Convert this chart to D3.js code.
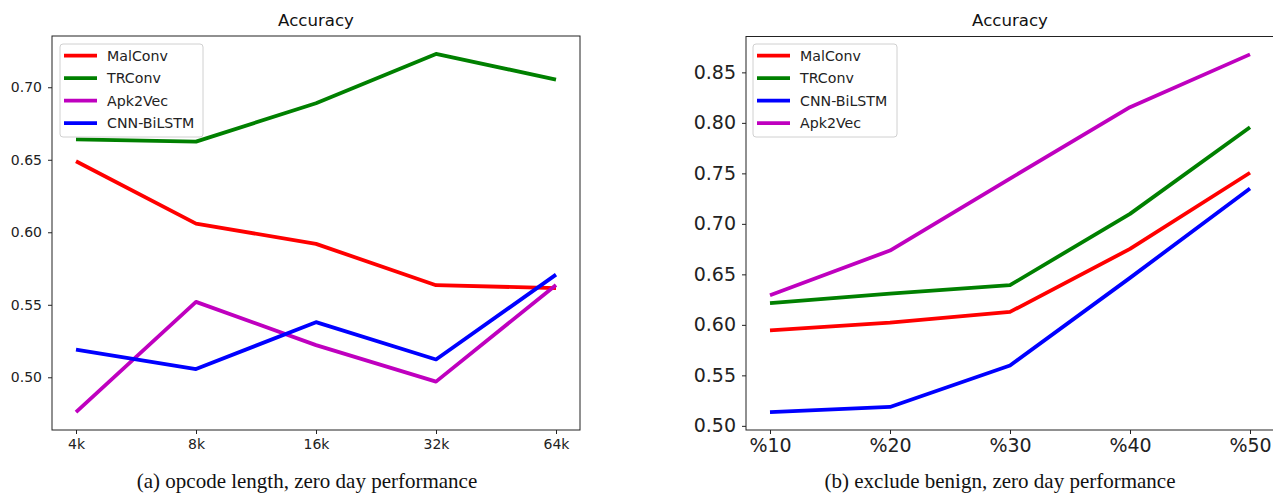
<!DOCTYPE html>
<html>
<head>
<meta charset="utf-8">
<script src="https://cdn.jsdelivr.net/npm/d3@7"></script>
<style>
  body { margin: 0; background: #fff; }
  svg { display: block; font-family: "DejaVu Sans", sans-serif; }
  .title { font-size: 16.6px; fill: #111; }
  .caption { font-family: "Liberation Serif", serif; font-size: 21px; fill: #111; }
</style>
</head>
<body>
<div id="chart"></div>
<script>
var width = 1273;
var height = 493;

// panel (a): opcode length
var LENGTHS = ['4k', '8k', '16k', '32k', '64k'];
var A_MALCONV = [0.649, 0.606, 0.592, 0.5635, 0.5615];
var A_TRCONV = [0.664, 0.6625, 0.689, 0.723, 0.7053];
var A_APK2VEC = [0.476, 0.552, 0.5222, 0.497, 0.5637];
var A_CNNBILSTM = [0.519, 0.5057, 0.538, 0.5123, 0.5708];
var A_TICKS = [0.50, 0.55, 0.60, 0.65, 0.70];

// panel (b): exclude benign
var PERCENTS = ['%10', '%20', '%30', '%40', '%50'];
var B_MALCONV = [0.5946, 0.6022, 0.6128, 0.6752, 0.7506];
var B_TRCONV = [0.6216, 0.631, 0.6393, 0.7099, 0.7957];
var B_CNNBILSTM = [0.5136, 0.5187, 0.5597, 0.6465, 0.7351];
var B_APK2VEC = [0.6293, 0.6736, 0.7448, 0.8155, 0.8678];
var B_TICKS = [0.50, 0.55, 0.60, 0.65, 0.70, 0.75, 0.80, 0.85];

var RED = '#ff0000';
var GREEN = '#008000';
var BLUE = '#0000ff';
var MAGENTA = '#bf00bf';

var svg = d3.select('#chart').append('svg')
    .attr('width', width)
    .attr('height', height);

var drawPanel = function (opt) {
    var x = d3.scaleLinear()
        .domain([-0.2, opt.cats.length - 1 + 0.2])
        .range([opt.left, opt.right]);

    var all = [];
    opt.series.forEach(function (s) { all = all.concat(s.values); });
    var lo = d3.min(all), hi = d3.max(all);
    var pad = (hi - lo) * 0.05;
    var y = d3.scaleLinear()
        .domain([lo - pad, hi + pad])
        .range([opt.bottom, opt.top]);

    var g = svg.append('g');

    // lines
    var line = d3.line()
        .x(function (d, i) { return x(i); })
        .y(function (d) { return y(d); });

    opt.series.forEach(function (s) {
        g.append('path')
            .datum(s.values)
            .attr('fill', 'none')
            .attr('stroke', s.color)
            .attr('stroke-width', 3.8)
            .attr('stroke-linejoin', 'round')
            .attr('d', line);
    });

    // frame
    g.append('rect')
        .attr('x', opt.left)
        .attr('y', opt.top)
        .attr('width', opt.right - opt.left)
        .attr('height', opt.bottom - opt.top)
        .attr('fill', 'none')
        .attr('stroke', '#222')
        .attr('stroke-width', 1);

    var xAxis = d3.axisBottom(x)
        .tickValues(d3.range(opt.cats.length))
        .tickFormat(function (i) { return opt.cats[i]; })
        .tickSize(4)
        .tickPadding(opt.xPad);
    var gx = g.append('g')
        .attr('transform', 'translate(0,' + opt.bottom + ')')
        .call(xAxis);
    gx.select('.domain').remove();
    gx.selectAll('line').attr('stroke', '#222');
    gx.selectAll('text')
        .attr('fill', '#222')
        .style('font-size', opt.tickFont + 'px')
        .style('font-family', '"DejaVu Sans", sans-serif');

    var yAxis = d3.axisLeft(y)
        .tickValues(opt.yTicks)
        .tickFormat(d3.format('.2f'))
        .tickSize(4)
        .tickPadding(opt.yPad);
    var gy = g.append('g')
        .attr('transform', 'translate(' + opt.left + ',0)')
        .call(yAxis);
    gy.select('.domain').remove();
    gy.selectAll('line').attr('stroke', '#222');
    gy.selectAll('text')
        .attr('fill', '#222')
        .style('font-size', opt.tickFont + 'px')
        .style('font-family', '"DejaVu Sans", sans-serif');

    // title
    g.append('text')
        .attr('class', 'title')
        .attr('x', (opt.left + opt.right) / 2)
        .attr('y', 26)
        .attr('text-anchor', 'middle')
        .text('Accuracy');

    // legend
    var lg = g.append('g')
        .attr('transform', 'translate(' + opt.legendX + ',' + 44 + ')');
    lg.append('rect')
        .attr('width', opt.legendW)
        .attr('height', 93)
        .attr('rx', 3)
        .attr('fill', 'rgba(255,255,255,0.8)')
        .attr('stroke', '#d0d0d0');
    opt.series.forEach(function (s, i) {
        var yy = 11.7 + i * 22.5;
        lg.append('line')
            .attr('x1', 4)
            .attr('x2', 37)
            .attr('y1', yy)
            .attr('y2', yy)
            .attr('stroke', s.color)
            .attr('stroke-width', 3.8);
        lg.append('text')
            .attr('x', 47)
            .attr('y', yy + 5)
            .style('font-size', '14.2px')
            .attr('fill', '#222')
            .text(s.name);
    });

    // caption
    svg.append('text')
        .attr('class', 'caption')
        .attr('x', opt.captionX)
        .attr('y', 487.5)
        .attr('text-anchor', 'middle')
        .text(opt.caption);
};

drawPanel({
    left: 52, right: 580, top: 36, bottom: 430,
    cats: LENGTHS,
    yTicks: A_TICKS,
    tickFont: 14,
    xPad: 5, yPad: 6,
    legendX: 60, legendW: 143,
    captionX: 307,
    caption: '(a) opcode length, zero day performance',
    series: [
        { name: 'MalConv', color: RED, values: A_MALCONV },
        { name: 'TRConv', color: GREEN, values: A_TRCONV },
        { name: 'Apk2Vec', color: MAGENTA, values: A_APK2VEC },
        { name: 'CNN-BiLSTM', color: BLUE, values: A_CNNBILSTM }
    ]
});

drawPanel({
    left: 746, right: 1274, top: 36.5, bottom: 430,
    cats: PERCENTS,
    yTicks: B_TICKS,
    tickFont: 19,
    xPad: 5, yPad: 6,
    legendX: 753, legendW: 144,
    captionX: 1000,
    caption: '(b) exclude benign, zero day performance',
    series: [
        { name: 'MalConv', color: RED, values: B_MALCONV },
        { name: 'TRConv', color: GREEN, values: B_TRCONV },
        { name: 'CNN-BiLSTM', color: BLUE, values: B_CNNBILSTM },
        { name: 'Apk2Vec', color: MAGENTA, values: B_APK2VEC }
    ]
});
</script>
</body>
</html>
